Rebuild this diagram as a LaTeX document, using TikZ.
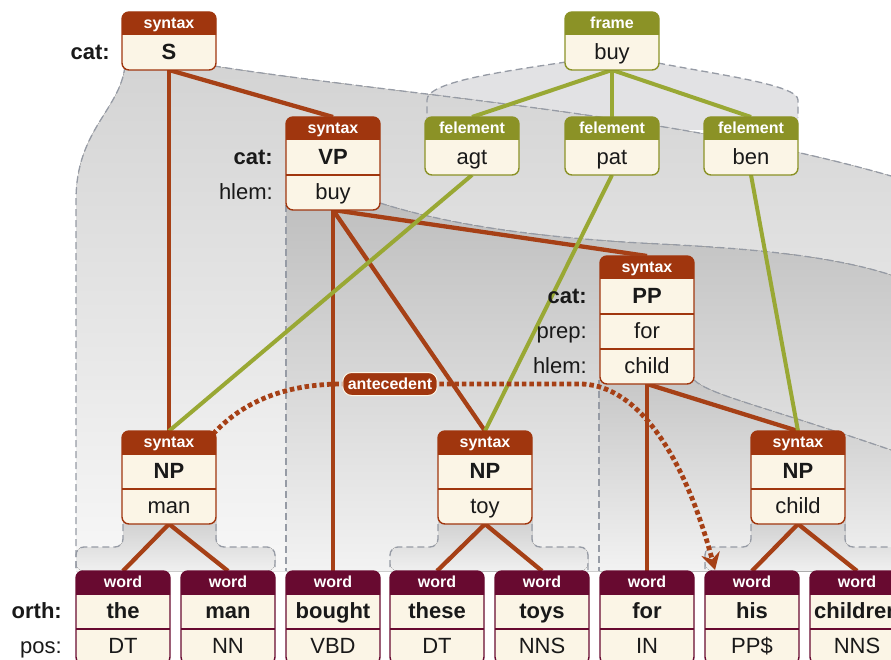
\documentclass[tikz,border=0pt]{standalone}
\usepackage{fontspec}
\setmainfont{Liberation Sans}
\usetikzlibrary{arrows.meta,calc}

\definecolor{synbrown}{RGB}{160,54,14}
\definecolor{synline}{RGB}{166,64,22}
\definecolor{frameolive}{RGB}{139,146,38}
\definecolor{oliveline}{RGB}{153,168,52}
\definecolor{wordplum}{RGB}{104,10,48}
\definecolor{cream}{RGB}{251,245,230}
\definecolor{dashgray}{RGB}{150,155,165}
\definecolor{inktext}{RGB}{25,25,25}
\definecolor{framegray}{RGB}{226,226,228}

\pgfdeclarelayer{regions}
\pgfdeclarelayer{links}
\pgfsetlayers{regions,links,main}

% feature record: #1 name, #2 centre x, #3 top y, #4 rows, #5 colour, #6 header, #7 rows (style/text)
\newcommand{\recordbox}[7]{%
  \node[recshape, minimum height={23+35*#4}, anchor=north] (#1) at (#2,#3) {};
  \begin{scope}
    \clip (#2-49,#3-1) rectangle (#2+49,#3+23);
    \fill[#5, rounded corners=7pt] (#1.north west) rectangle (#1.south east);
  \end{scope}
  \draw[#5, line width=1.4pt, rounded corners=7pt] (#1.north west) rectangle (#1.south east);
  \node[hdr] (#1-h) at (#2,#3+16.5) {#6};
  \foreach \st/\tx [count=\k] in {#7} {%
    \pgfmathsetmacro{\rbRowY}{#3+23+35*(\k-1)}
    \node[\st, anchor=base] (#1-\k) at (#2,\rbRowY+24.5) {\tx};
    \ifnum\k>1 \draw[#5, line width=1.4pt] (#2-47,\rbRowY) -- (#2+47,\rbRowY); \fi
  }%
}

% shaded span under a noun phrase: #1 box left, #2 box right, #3 span left, #4 span right
\newcommand{\npspan}[4]{%
  \fill[top color=black!21, bottom color=black!6, rounded corners=8pt]
    (#1,510) -- (#1,547) -- (#3,547) -- (#3,571) -- (#4,571) -- (#4,547) -- (#2,547) -- (#2,510) -- cycle;
  \draw[spanline, rounded corners=8pt] (#1,524) -- (#1,547) -- (#3,547) -- (#3,571);
  \draw[spanline, rounded corners=8pt] (#2,524) -- (#2,547) -- (#4,547) -- (#4,571);
}

\begin{document}
\begin{tikzpicture}[x=1pt,y=-1pt,
  recshape/.style={rectangle, minimum width=94, inner sep=0, outer sep=0, fill=cream, rounded corners=7pt},
  hdr/.style={font=\fontsize{16}{18}\selectfont\bfseries, text=white, anchor=base, inner sep=0},
  rowb/.style={font=\fontsize{22}{24}\selectfont\bfseries, text=inktext, inner sep=0},
  rown/.style={font=\fontsize{22}{24}\selectfont, text=inktext, inner sep=0},
  lbl/.style={font=\fontsize{22}{24}\selectfont, text=inktext, anchor=base east, inner sep=0},
  lblb/.style={font=\fontsize{22}{24}\selectfont\bfseries, text=inktext, anchor=base east, inner sep=0},
  synlink/.style={draw=synline, line width=4.3pt},
  framelink/.style={draw=oliveline, line width=4pt},
  spanline/.style={draw=dashgray, line width=1.3pt, dash pattern=on 7pt off 4pt},
  antebox/.style={fill=synbrown, draw=cream, line width=1pt, rounded corners=9pt, text=white,
    font=\fontsize{16}{18}\selectfont\bfseries, inner xsep=5pt, inner ysep=0pt, minimum height=23},
  antelink/.style={draw=synline, line width=4.8pt, dash pattern=on 4.5pt off 3pt,
    -{Stealth[length=17pt,width=19pt,inset=6pt]}},
]
\useasboundingbox (0,0) rectangle (891,660);

% ---- syntax records
\recordbox{S}{169}{12}{1}{synbrown}{syntax}{rowb/S}
\recordbox{VP}{333}{117}{2}{synbrown}{syntax}{rowb/VP, rown/buy}
\recordbox{PP}{647}{256}{3}{synbrown}{syntax}{rowb/PP, rown/for, rown/child}
\recordbox{NPman}{169}{431}{2}{synbrown}{syntax}{rowb/NP, rown/man}
\recordbox{NPtoy}{485}{431}{2}{synbrown}{syntax}{rowb/NP, rown/toy}
\recordbox{NPchild}{798}{431}{2}{synbrown}{syntax}{rowb/NP, rown/child}

% ---- frame records
\recordbox{frame}{612}{12}{1}{frameolive}{frame}{rown/buy}
\recordbox{agt}{472}{117}{1}{frameolive}{felement}{rown/agt}
\recordbox{pat}{612}{117}{1}{frameolive}{felement}{rown/pat}
\recordbox{ben}{751}{117}{1}{frameolive}{felement}{rown/ben}

% ---- word records
\recordbox{wthe}{123}{571}{2}{wordplum}{word}{rowb/the, rown/DT}
\recordbox{wman}{228}{571}{2}{wordplum}{word}{rowb/man, rown/NN}
\recordbox{wbought}{333}{571}{2}{wordplum}{word}{rowb/bought, rown/VBD}
\recordbox{wthese}{437}{571}{2}{wordplum}{word}{rowb/these, rown/DT}
\recordbox{wtoys}{542}{571}{2}{wordplum}{word}{rowb/toys, rown/NNS}
\recordbox{wfor}{647}{571}{2}{wordplum}{word}{rowb/for, rown/IN}
\recordbox{whis}{752}{571}{2}{wordplum}{word}{rowb/his, rown/PP\$}
\recordbox{wchildren}{857}{571}{2}{wordplum}{word}{rowb/children, rown/NNS}

% ---- attribute labels
\node[lblb] (catS) at (110,59.5) {cat:};
\node[lblb] (catVP) at (273,164.5) {cat:};
\node[lbl] (hlemVP) at (273,199.5) {hlem:};
\node[lblb] (catPP) at (587,303.5) {cat:};
\node[lbl] (prepPP) at (587,338.5) {prep:};
\node[lbl] (hlemPP) at (587,373.5) {hlem:};
\node[lblb] (orth) at (62,618.5) {orth:};
\node[lbl] (pos) at (62,653.5) {pos:};

% ---- coreference marker
\node[antebox] (ante) at (390,384) {antecedent};

% ---- shaded spans
\begin{pgfonlayer}{regions}
  \fill[framegray]
    (566,62) .. controls (500,72) and (427,82) .. (427,100) -- (427,130) -- (798,130) -- (798,100)
    .. controls (798,85) and (720,75) .. (658,63) -- cycle;
  \fill[top color=black!17, bottom color=black!3]
    (125,66) .. controls (120,110) and (76,130) .. (76,200) -- (76,571) -- (891,571) -- (891,176)
    .. controls (680,115) and (400,95) .. (214,66) -- cycle;
  \fill[top color=black!25, bottom color=black!5]
    (286,205) -- (286,571) -- (891,571) -- (891,275) .. controls (820,252) and (720,247) .. (640,243)
    .. controls (520,236) and (440,222) .. (380,203) -- cycle;
  \fill[top color=black!22, bottom color=black!5]
    (599,380) -- (599,571) -- (891,571) -- (891,450) .. controls (760,405) and (710,395) .. (694,380) -- cycle;
  \npspan{123}{216}{76}{275}
  \npspan{438}{532}{390}{588}
  \npspan{751}{845}{705}{905}

  \draw[spanline] (566,62) .. controls (500,72) and (427,82) .. (427,100) -- (427,118);
  \draw[spanline] (658,63) .. controls (720,75) and (798,85) .. (798,100) -- (798,118);
  \draw[spanline] (125,66) .. controls (120,110) and (76,130) .. (76,200) -- (76,571);
  \draw[spanline] (214,66) .. controls (400,95) and (680,115) .. (891,176);
  \draw[spanline] (286,205) -- (286,571);
  \draw[spanline] (380,203) .. controls (440,222) and (520,236) .. (640,243)
    .. controls (720,247) and (820,252) .. (891,275);
  \draw[spanline] (599,380) -- (599,571);
  \draw[spanline] (694,380) .. controls (710,395) and (760,405) .. (891,450);
\end{pgfonlayer}

% ---- connectors
\begin{pgfonlayer}{links}
  \draw[synlink] (S.south) -- (VP.north);
  \draw[synlink] (S.south) -- (NPman.north);
  \draw[synlink] (VP.south) -- (wbought.north);
  \draw[synlink] (VP.south) -- (NPtoy.north);
  \draw[synlink] (VP.south) -- (PP.north);
  \draw[synlink] (PP.south) -- (wfor.north);
  \draw[synlink] (PP.south) -- (NPchild.north);
  \draw[synlink] (NPman.south) -- (wthe.north);
  \draw[synlink] (NPman.south) -- (wman.north);
  \draw[synlink] (NPtoy.south) -- (wthese.north);
  \draw[synlink] (NPtoy.south) -- (wtoys.north);
  \draw[synlink] (NPchild.south) -- (whis.north);
  \draw[synlink] (NPchild.south) -- (wchildren.north);

  \draw[framelink] (frame.south) -- (agt.north);
  \draw[framelink] (frame.south) -- (pat.north);
  \draw[framelink] (frame.south) -- (ben.north);
  \draw[framelink] (agt.south) -- (NPman.north);
  \draw[framelink] (pat.south) -- (NPtoy.north);
  \draw[framelink] (ben.south) -- (NPchild.north);

  \coordinate (anteStart) at ($(NPman.north east)+(-3,3)$);
  \coordinate (anteTip) at ($(whis.north west)+(10,-1)$);
  \draw[antelink] (anteStart) .. controls (240,405) and (280,384) .. (ante.west) -- (ante.east)
    -- (580,384) .. controls (630,384) and (680,440) .. (anteTip);
\end{pgfonlayer}
\end{tikzpicture}
\end{document}
